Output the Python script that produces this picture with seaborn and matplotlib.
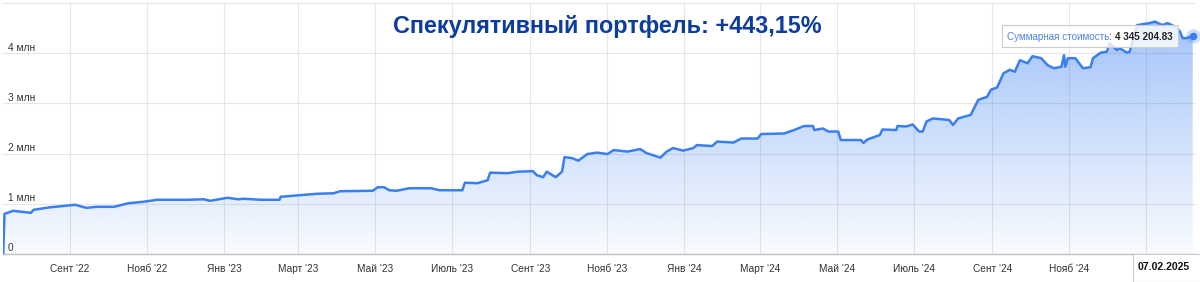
import numpy as np
import pandas as pd
import matplotlib
matplotlib.use("Agg")
import matplotlib.pyplot as plt
import matplotlib.dates as mdates
from matplotlib.colors import to_rgb
from matplotlib.patches import Rectangle
import seaborn as sns

# ---------------- data ----------------
dates = [
    "2022-07-10", "2022-07-11", "2022-07-18", "2022-08-01", "2022-08-03", "2022-08-16",
    "2022-09-05", "2022-09-14", "2022-09-22", "2022-10-06", "2022-10-17", "2022-10-29",
    "2022-11-09", "2022-12-03", "2022-12-16", "2022-12-21", "2023-01-04", "2023-01-12",
    "2023-01-17", "2023-01-30", "2023-02-14", "2023-02-15", "2023-03-01", "2023-03-16",
    "2023-03-29", "2023-04-03", "2023-04-29", "2023-05-03", "2023-05-08", "2023-05-12",
    "2023-05-18", "2023-05-28", "2023-06-14", "2023-06-21", "2023-07-09", "2023-07-11",
    "2023-07-21", "2023-07-29", "2023-07-31", "2023-08-14", "2023-08-22", "2023-09-03",
    "2023-09-06", "2023-09-11", "2023-09-14", "2023-09-21", "2023-09-26", "2023-09-28",
    "2023-10-04", "2023-10-09", "2023-10-16", "2023-10-24", "2023-11-01", "2023-11-06",
    "2023-11-17", "2023-11-27", "2023-12-02", "2023-12-13", "2023-12-18", "2023-12-23",
    "2023-12-31", "2024-01-08", "2024-01-11", "2024-01-23", "2024-01-27", "2024-02-09",
    "2024-02-15", "2024-02-28", "2024-03-02", "2024-03-20", "2024-03-28", "2024-04-05",
    "2024-04-12", "2024-04-13", "2024-04-20", "2024-04-24", "2024-05-02", "2024-05-04",
    "2024-05-20", "2024-05-22", "2024-05-25", "2024-06-04", "2024-06-06", "2024-06-17",
    "2024-06-18", "2024-06-25", "2024-06-30", "2024-07-03", "2024-07-05", "2024-07-08",
    "2024-07-11", "2024-07-16", "2024-07-29", "2024-08-01", "2024-08-05", "2024-08-15",
    "2024-08-21", "2024-08-28", "2024-08-31", "2024-09-05", "2024-09-10", "2024-09-15",
    "2024-09-19", "2024-09-23", "2024-09-29", "2024-10-03", "2024-10-10", "2024-10-15",
    "2024-10-20", "2024-10-26", "2024-10-28", "2024-10-29", "2024-10-31", "2024-11-06",
    "2024-11-12", "2024-11-18", "2024-11-20", "2024-11-26", "2024-12-01", "2024-12-03",
    "2024-12-09", "2024-12-11", "2024-12-17", "2024-12-19", "2024-12-25", "2025-01-04",
    "2025-01-08", "2025-01-14", "2025-01-18", "2025-01-24", "2025-01-28", "2025-01-30",
    "2025-02-02", "2025-02-07",
]
values_mln = [
    0.00, 0.80, 0.86, 0.82, 0.88, 0.93,
    0.98, 0.92, 0.94, 0.94, 1.01, 1.04,
    1.08, 1.08, 1.09, 1.06, 1.12, 1.09,
    1.10, 1.08, 1.08, 1.14, 1.17, 1.20,
    1.21, 1.25, 1.26, 1.33, 1.33, 1.27,
    1.26, 1.31, 1.31, 1.27, 1.27, 1.42,
    1.41, 1.47, 1.62, 1.61, 1.64, 1.65,
    1.57, 1.53, 1.64, 1.53, 1.64, 1.93,
    1.91, 1.86, 1.99, 2.02, 1.99, 2.07,
    2.04, 2.09, 2.01, 1.92, 2.04, 2.11,
    2.06, 2.11, 2.17, 2.15, 2.24, 2.22,
    2.30, 2.30, 2.39, 2.40, 2.47, 2.55,
    2.55, 2.47, 2.50, 2.44, 2.44, 2.27,
    2.27, 2.21, 2.28, 2.37, 2.48, 2.47,
    2.55, 2.54, 2.58, 2.50, 2.44, 2.44,
    2.64, 2.70, 2.67, 2.57, 2.70, 2.77,
    3.07, 3.13, 3.27, 3.32, 3.60, 3.67,
    3.63, 3.86, 3.80, 3.94, 3.90, 3.76,
    3.70, 3.73, 3.96, 3.73, 3.90, 3.90,
    3.70, 3.72, 3.90, 4.01, 4.03, 4.20,
    4.06, 4.10, 4.01, 4.03, 4.56, 4.60,
    4.63, 4.56, 4.60, 4.53, 4.43, 4.30,
    4.30, 4.34520483,
]
tick_dates = [
    "2022-09-01", "2022-11-01", "2023-01-01", "2023-03-01", "2023-05-01",
    "2023-07-01", "2023-09-01", "2023-11-01", "2024-01-01", "2024-03-01",
    "2024-05-01", "2024-07-01", "2024-09-01", "2024-11-01", "2025-01-01",
]
# the "Янв '25" label is hidden behind the date box in the reference
tick_labels = [
    "Сент '22", "Нояб '22", "Янв '23", "Март '23", "Май '23",
    "Июль '23", "Сент '23", "Нояб '23", "Янв '24", "Март '24",
    "Май '24", "Июль '24", "Сент '24", "Нояб '24", "",
]
y_ticks = [0, 1, 2, 3, 4, 5]
y_tick_labels = ["0", "1 млн", "2 млн", "3 млн", "4 млн", ""]
title_text = "Спекулятивный портфель: +443,15%"
tooltip_label = "Суммарная стоимость"
end_date_label = "07.02.2025"

# ---------------- style ----------------
sns.set_style("white")
plt.rcParams["font.family"] = ["Liberation Sans", "DejaVu Sans"]

LINE = "#3a7ff0"
GRID = "#e6e6e6"
TXT = "#333333"
W, H = 1200, 282

fig = plt.figure(figsize=(W / 100, H / 100), dpi=100)
ax = fig.add_axes([3 / W, 1 - 254 / H, 1192 / W, 251 / H])

df = pd.DataFrame({"date": pd.to_datetime(dates), "value": values_mln})
sns.lineplot(data=df, x="date", y="value", ax=ax, color=LINE, linewidth=1.8, zorder=4)

x_lo = pd.Timestamp("2022-07-09 20:00")
x_hi = pd.Timestamp("2025-02-08 20:00")
xn = mdates.date2num(df["date"])
xl0, xl1 = mdates.date2num(x_lo), mdates.date2num(x_hi)

# gradient fill under the line
poly = ax.fill_between(xn, df["value"].to_numpy(), 0, facecolor="none", edgecolor="none")
grad = np.zeros((256, 1, 4))
grad[..., :3] = to_rgb(LINE)
grad[:, 0, 3] = np.linspace(0.03, 0.50, 256)
img = ax.imshow(grad, extent=[xl0, xl1, 0, 5], origin="lower", aspect="auto",
                zorder=2, interpolation="bilinear")
img.set_clip_path(poly.get_paths()[0], transform=ax.transData)

ax.set_xlim(xl0, xl1)
ax.set_ylim(0, 5)

# grid & axes
ax.set_yticks(y_ticks)
ax.set_yticklabels([])
ax.set_xticks(mdates.date2num(pd.to_datetime(tick_dates)))
ax.set_xticklabels(tick_labels)
ax.grid(True, color=GRID, linewidth=0.8)
ax.set_axisbelow(True)
for gl in ax.get_ygridlines():
    gl.set_clip_on(False)
ax.tick_params(axis="x", direction="out", length=4, width=0.8, color=GRID,
               labelsize=7.3, labelcolor=TXT, pad=3.2)
ax.tick_params(axis="y", length=0)
for s in ["left", "right", "top"]:
    ax.spines[s].set_visible(False)
ax.spines["bottom"].set_color("#c0c0c0")
ax.spines["bottom"].set_linewidth(1.0)
ax.set_xlabel("")
ax.set_ylabel("")

for v, lab in zip(y_ticks, y_tick_labels):
    if lab:
        ax.annotate(lab, xy=(0, v), xycoords=("axes fraction", "data"),
                    xytext=(3.6, 4.1), textcoords="offset points",
                    ha="left", va="center", fontsize=7.3, color=TXT, zorder=5)

# end marker
last_x = df["date"].iloc[-1]
last_v = df["value"].iloc[-1]
ax.scatter([last_x], [last_v], s=110, color=LINE, alpha=0.25, zorder=5, clip_on=False, linewidths=0)
ax.scatter([last_x], [last_v], s=30, color=LINE, zorder=6, clip_on=False, linewidths=0)

# title
fig.text(607 / W, 1 - 33 / H, title_text, ha="center", va="baseline",
         fontsize=16.8, fontweight="bold", color="#0c3d9e")

# tooltip (kept inside the axes' draw order so texts sit above the box)
tip_box = Rectangle((1002 / W, 1 - 47 / H), 176 / W, 22 / H, transform=fig.transFigure,
                    facecolor=(1, 1, 1, 0.8), edgecolor="#cccccc", linewidth=0.8,
                    zorder=10, clip_on=False)
ax.add_artist(tip_box)
t1 = ax.text(1007 / W, 1 - 42 / H, tooltip_label, transform=fig.transFigure,
             ha="left", va="bottom", fontsize=7.1, color="#4f84e8", zorder=11, clip_on=False)
t2 = ax.annotate(": ", xy=(1, 0), xycoords=t1, ha="left", va="bottom",
                 fontsize=7.1, color="#222222", zorder=11, annotation_clip=False)
value_str = f"{last_v * 1e6:,.2f}".replace(",", " ")
ax.annotate(value_str, xy=(1, 0), xycoords=t2, ha="left", va="bottom",
            fontsize=7.1, fontweight="bold", color="#222222", zorder=12, annotation_clip=False)

# date label box
fig.add_artist(Rectangle((1133 / W, 0), 70 / W, 28 / H, transform=fig.transFigure,
                         facecolor="white", edgecolor="#cccccc", linewidth=0.8, zorder=10))
fig.text(1163.5 / W, 1 - 267 / H, end_date_label, ha="center", va="center",
         fontsize=7.5, fontweight="bold", color="#111111", zorder=11)

fig.savefig("out.png", dpi=100)
